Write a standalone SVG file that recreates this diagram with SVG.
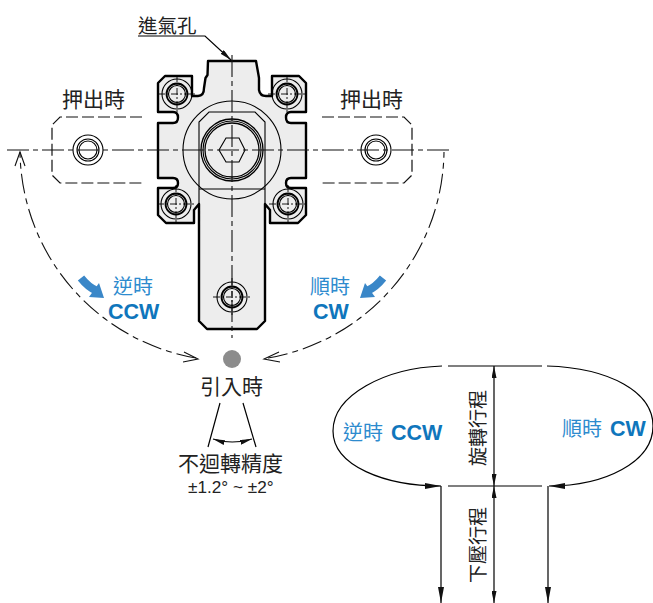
<svg xmlns="http://www.w3.org/2000/svg" width="653" height="603" viewBox="0 0 653 603">
<style>
text{font-family:"Liberation Sans","Noto Sans CJK TC",sans-serif;fill:#222}
.l{font-size:21px}
.b{fill:#2e8bce;font-size:20px}
.bb{fill:#0f76bc;font-size:21.500px;font-weight:bold}
.thin{fill:none;stroke:#000;stroke-width:1.1}
.thick{fill:none;stroke:#000;stroke-width:1.8}
.ghost{fill:none;stroke:#111;stroke-width:1.2;stroke-dasharray:12 4}
.cl{fill:none;stroke:#111;stroke-width:1.1;stroke-dasharray:22 4 5 4}
.arc{fill:none;stroke:#111;stroke-width:1.1;stroke-dasharray:20 5 6 5}
.open{fill:none;stroke:#111;stroke-width:1.1}
.line{fill:none;stroke:#000;stroke-width:1.2}
.blue{fill:none;stroke:#3a87c8;stroke-width:8}
</style>
<defs>
<marker id="fa" viewBox="0 0 16 6" refX="16" refY="3" markerWidth="16" markerHeight="6" markerUnits="userSpaceOnUse" orient="auto-start-reverse"><path d="M0 0L16 3L0 6Z" fill="#111"/></marker>
<marker id="sa" viewBox="0 0 12 5" refX="12" refY="2.5" markerWidth="12" markerHeight="5" markerUnits="userSpaceOnUse" orient="auto-start-reverse"><path d="M0 0L12 2.500L0 5Z" fill="#111"/></marker>
<g id="screw"><circle r="15" class="thin"/><circle r="10.500" class="thick"/><circle r="8.500" class="thin"/><path d="M-19 0H19M0-19V19" class="thin" style="stroke-width:.9" stroke-dasharray="7 2 2 2"/></g>
</defs>
<g id="ghost-left"><path class="ghost" d="M142 117H60L52 125V175L60 183H142"/><circle cx="88" cy="150" r="15" class="thin"/><circle cx="88" cy="150" r="11" class="thin"/><circle cx="88" cy="150" r="9" class="thin"/></g>
<g id="ghost-right"><path class="ghost" d="M322 117H404L412 125V175L404 183H322"/><circle cx="376" cy="150" r="15" class="thin"/><circle cx="376" cy="150" r="11" class="thin"/><circle cx="376" cy="150" r="9" class="thin"/></g>
<g id="clamp">
<path fill="#ededed" stroke="#000" stroke-width="2.400" stroke-linejoin="round" d="M208 61H256L258.500 75L259 78V90Q260 96 266 96H272V76H299L306 83V112H291Q286 112 286 117.500Q286 123 291 123H306V178H291Q286 178 286 183Q286 188 291 188H306V215L298 223H270V210L265 204V321L257 329H207L199 321V204L194 210V223H166L158 215V188H173Q178 188 178 183Q178 178 173 178H158V123H173Q178 123 178 117.500Q178 112 173 112H158V83L165 76H192V96H198Q204 96 204 88L205.500 78L207.500 75Z"/>
<circle cx="232" cy="150" r="49" class="thin"/>
<path class="thin" d="M199 204V122L209 112H255L265 122V204M199 189H265"/>
<circle cx="232" cy="150" r="31" class="thick" style="stroke-width:1.300"/><circle cx="232" cy="150" r="29" class="thin"/><circle cx="232" cy="150" r="27" class="thick" style="stroke-width:1.300"/>
<path class="thin" d="M219 150L226 138H239L245 150L239 162H226Z"/>
<use href="#screw" x="177" y="94"/><use href="#screw" x="287" y="94"/><use href="#screw" x="176" y="204"/><use href="#screw" x="288" y="204"/><use href="#screw" x="232" y="297"/>
</g>
<g id="connectors">
<path class="cl" d="M232 55V338"/>
<path class="cl" d="M7 150H452"/>
<path class="arc" d="M196 358A212 212 0 0 1 20 152"/>
<path class="arc" d="M268 358A212 212 0 0 0 444 152"/>
<path class="open" d="M15 166L20 152L25 166M184 352L198 359L183 362M279 352L264 359L280 362"/>
<path class="line" d="M138 36H205L231 60" marker-end="url(#sa)"/>
<path class="blue" d="M81 278Q88 287 97 291"/><path d="M104 298L89 297L99 283Z" fill="#3a87c8"/>
<path class="blue" d="M383 278Q376 287 367 291"/><path d="M360 298L375 297L365 283Z" fill="#3a87c8"/>
<path class="line" d="M220 403L208 447M243 403L256 447"/>
<path class="line" d="M213 439Q232 445 252 439" marker-start="url(#sa)" marker-end="url(#sa)"/>
<path class="line" d="M442 366C385 368 333 395 333 431C333 466 385 486 441 486" marker-end="url(#fa)"/>
<path class="line" d="M547 366C610 368 653 392 653 426C653 462 605 486 549 486" marker-end="url(#fa)"/>
<path class="line" d="M448 366H542M448 486H542"/>
<path class="line" d="M441 486V603" marker-end="url(#fa)"/>
<path class="line" d="M548 486V603" marker-end="url(#fa)"/>
<path class="line" d="M494 366V486" marker-start="url(#sa)" marker-end="url(#sa)"/>
<path class="line" d="M494 486V603" marker-start="url(#sa)" marker-end="url(#sa)"/>
</g>
<circle id="home-dot" cx="232" cy="359" r="9" fill="#8c8c8c"/>
<g id="labels">
<text x="138" y="33" font-size="19.500">進氣孔</text>
<text x="62" y="107" class="l">押出時</text>
<text x="340" y="107" class="l">押出時</text>
<text x="113" y="294" class="b">逆時</text>
<text x="108" y="319" class="bb">CCW</text>
<text x="310" y="294" class="b">順時</text>
<text x="313" y="319" class="bb">CW</text>
<text x="200" y="394" class="l">引入時</text>
<text x="178" y="471" class="l">不迴轉精度</text>
<text x="188" y="493" font-size="17.200">±1.2° ~ ±2°</text>
<text x="343" y="440" class="b">逆時</text><text x="391" y="440" class="bb">CCW</text>
<text x="562" y="436" class="b">順時</text><text x="610" y="436" class="bb">CW</text>
<text transform="translate(485 466) rotate(-90)" font-size="19">旋轉行程</text>
<text transform="translate(485 583) rotate(-90)" font-size="19">下壓行程</text>
</g>
</svg>
